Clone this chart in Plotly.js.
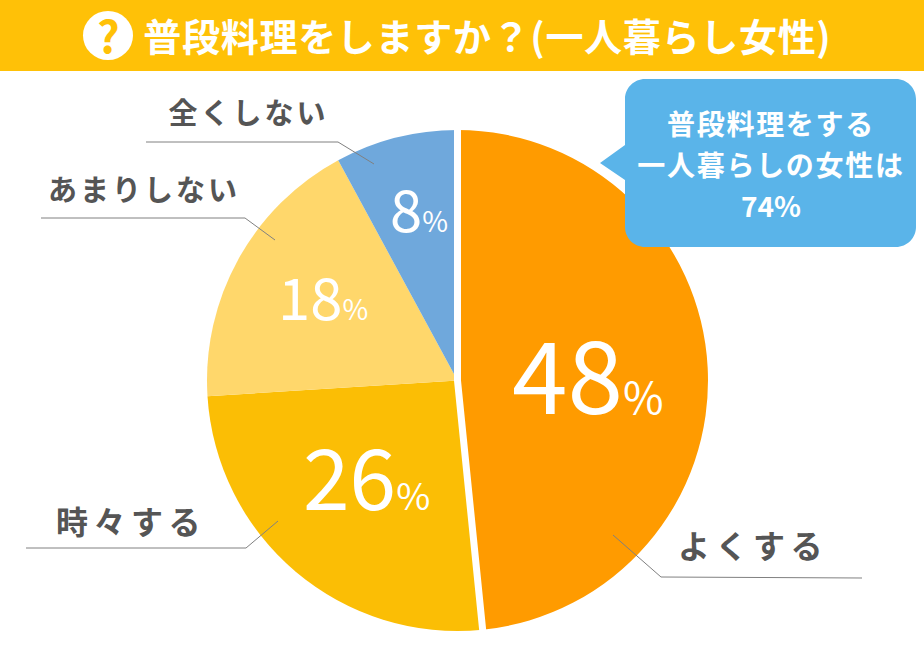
<!DOCTYPE html>
<html><head><meta charset="utf-8">
<script src="https://cdn.plot.ly/plotly-3.0.1.min.js"></script>
<style>
html,body{margin:0;padding:0;background:#fff}
#c{width:924px;height:668px}
.annotation[data-index="0"] text{letter-spacing:0.7px}
.annotation[data-index="1"] text,.annotation[data-index="2"] text{letter-spacing:1.7px}
.annotation[data-index="4"] text,.annotation[data-index="5"] text{letter-spacing:3px}
.annotation[data-index="6"] text,.annotation[data-index="7"] text{letter-spacing:5.5px}
</style></head><body><div id="c"></div>
<script>
const W=924,H=668;
const categories=['よくする','時々する','あまりしない','全くしない'];
const shares=[48.4,25.6,18.1,7.9];
const colors=['#FF9B00','#FBBE05','#FFD76B','#6FA8DC'];
const titleText='普段料理をしますか？(一人暮らし女性)';
const calloutLines=['普段料理をする','一人暮らしの女性は','74%'];
const PIE={cx:457.5,cy:380.5,r:250.5};
const px=x=>x/W, py=y=>1-y/H;

// white gap along the edges of the first slice, taken from its share
const a=shares[0]/100*2*Math.PI;
const gap=`M ${px(PIE.cx)} ${py(PIE.cy-PIE.r-3)} L ${px(PIE.cx)} ${py(PIE.cy)} L ${px(PIE.cx+(PIE.r+3)*Math.sin(a))} ${py(PIE.cy-(PIE.r+3)*Math.cos(a))}`;

function rrect(x0,y0,x1,y1,r){
  const X=px,Y=py;
  const k=r*0.45;
  return `M ${X(x0+r)} ${Y(y0)} L ${X(x1-r)} ${Y(y0)} C ${X(x1-k)} ${Y(y0)} ${X(x1)} ${Y(y0+k)} ${X(x1)} ${Y(y0+r)} `+
  `L ${X(x1)} ${Y(y1-r)} C ${X(x1)} ${Y(y1-k)} ${X(x1-k)} ${Y(y1)} ${X(x1-r)} ${Y(y1)} `+
  `L ${X(x0+r)} ${Y(y1)} C ${X(x0+k)} ${Y(y1)} ${X(x0)} ${Y(y1-k)} ${X(x0)} ${Y(y1-r)} `+
  `L ${X(x0)} ${Y(180)} L ${X(600)} ${Y(163)} L ${X(x0)} ${Y(145)} `+
  `L ${X(x0)} ${Y(y0+r)} C ${X(x0)} ${Y(y0+k)} ${X(x0+k)} ${Y(y0)} ${X(x0+r)} ${Y(y0)} Z`;
}
function leader(pts){
  return {type:'path',xref:'paper',yref:'paper',layer:'above',
    path:pts.map((p,i)=>(i?'L ':'M ')+px(p[0])+' '+py(p[1])).join(' '),
    line:{color:'#808080',width:1},fillcolor:'rgba(0,0,0,0)'};
}
const shapes=[
  {type:'rect',xref:'paper',yref:'paper',x0:0,x1:1,y0:py(71),y1:1,fillcolor:'#FFC107',line:{width:0},layer:'above'},
  {type:'circle',xref:'paper',yref:'paper',x0:px(83),x1:px(133),y0:py(60),y1:py(11),fillcolor:'#fff',line:{width:0},layer:'above'},
  {type:'path',xref:'paper',yref:'paper',path:gap,line:{color:'#fff',width:7},fillcolor:'rgba(0,0,0,0)',layer:'above'},
  {type:'path',xref:'paper',yref:'paper',path:rrect(625,79,916,247,20),fillcolor:'#5AB4E9',line:{width:0},layer:'above'},
  leader([[146,142],[338,142],[374,164]]),
  leader([[41,218],[245,218],[275,240]]),
  leader([[26,548],[246,548],[278,521]]),
  leader([[613,535],[661,577],[862,578]])
];
const JP='"Noto Sans CJK JP"';
const ann=(text,x,y,size,color,weight,extra)=>Object.assign({xref:'paper',yref:'paper',x:px(x),y:py(y),text,showarrow:false,
  xanchor:'center',yanchor:'middle',font:{family:JP,size,color,weight}},extra||{});
const pct=(v,big,small)=>`<span style="font-size:${big}px">${Math.round(v)}</span><span style="font-size:${small}px">%</span>`;
const annotations=[
  ann(titleText,487,34,38,'#fff',700),
  ann(calloutLines[0],771,123,28,'#fff',700),
  ann(calloutLines[1],771,164,28,'#fff',700),
  ann(calloutLines[2],771,205,28,'#fff',700),
  ann(categories[3],248,111,29,'#555',700),
  ann(categories[2],144,188,29,'#555',700),
  ann(categories[1],131,520,32,'#555',700),
  ann(categories[0],753,544,32,'#555',700),
  ann(pct(shares[0],100,44),588,370,100,'#fff',400),
  ann(pct(shares[1],84,37),366,473,84,'#fff',400),
  ann(pct(shares[2],58,28),323,295,58,'#fff',400),
  ann(pct(shares[3],58,28),419,207,58,'#fff',400),
  ann('?',108,34,44,'#FFC107',700)
];
Plotly.newPlot('c',[{type:'pie',labels:categories,values:shares,sort:false,direction:'clockwise',rotation:0,
  marker:{colors,line:{width:0}},textinfo:'none',hoverinfo:'none',showlegend:false,
  domain:{x:[px(PIE.cx-PIE.r),px(PIE.cx+PIE.r)],y:[py(PIE.cy+PIE.r),py(PIE.cy-PIE.r)]}}],
  {width:W,height:H,margin:{l:0,r:0,t:0,b:0},paper_bgcolor:'#fff',showlegend:false,shapes,annotations},
  {staticPlot:true,displayModeBar:false});
</script></body></html>
